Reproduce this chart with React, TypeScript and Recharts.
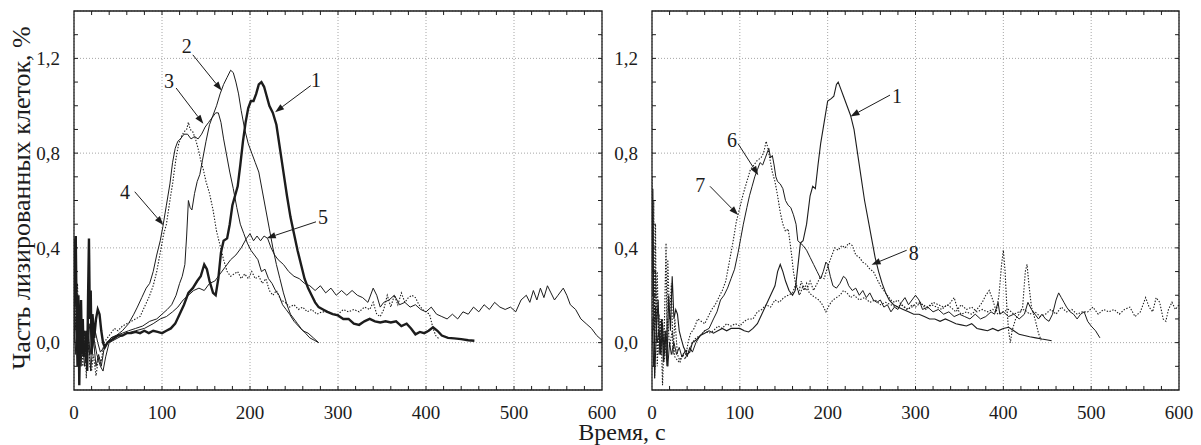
import {
  CartesianGrid,
  Line,
  LineChart,
  ReferenceArea,
  ReferenceDot,
  ReferenceLine,
  XAxis,
  YAxis,
} from 'recharts';

type Pt = [number, number];

// left panel, curves 1-5 (time s, lysed fraction %)
const left1: Pt[] = [
  [0, 0.15], [1, 0.42], [2, 0.45], [3, 0.1], [4, -0.1], [5, 0.2], [6, -0.18], [7, 0.05], [8, 0.18], [9, -0.05],
  [10, 0.1], [11, -0.06], [12, 0.0], [13, -0.04], [14, 0.05], [15, -0.12], [16, 0.2], [17, 0.44], [18, 0.1], [19, 0.22],
  [20, -0.05], [21, 0.12], [23, 0.02], [25, 0.1], [27, 0.14], [29, 0.12], [31, 0.05], [33, 0.0], [35, -0.02], [38, 0.0],
  [42, 0.01], [46, 0.02], [50, 0.03], [55, 0.03], [60, 0.04], [65, 0.04], [70, 0.045], [75, 0.04], [80, 0.05], [85, 0.04],
  [90, 0.05], [95, 0.045], [100, 0.04], [105, 0.05], [110, 0.06], [115, 0.08], [120, 0.12], [125, 0.16], [130, 0.21], [135, 0.23],
  [140, 0.26], [144, 0.28], [148, 0.33], [151, 0.31], [154, 0.26], [158, 0.21], [161, 0.2], [164, 0.27], [167, 0.38], [170, 0.43],
  [174, 0.44], [177, 0.5], [180, 0.58], [183, 0.62], [186, 0.66], [189, 0.75], [192, 0.85], [195, 0.93], [198, 0.99], [201, 1.02],
  [204, 1.02], [207, 1.05], [210, 1.09], [213, 1.1], [216, 1.08], [219, 1.04], [222, 1.0], [226, 0.97], [230, 0.92], [234, 0.82],
  [238, 0.72], [242, 0.62], [246, 0.53], [250, 0.46], [254, 0.39], [258, 0.33], [262, 0.27], [266, 0.23], [270, 0.2], [274, 0.17],
  [278, 0.15], [283, 0.14], [288, 0.13], [294, 0.12], [300, 0.115], [306, 0.1], [312, 0.1], [318, 0.08], [324, 0.075], [330, 0.09],
  [336, 0.1], [342, 0.09], [348, 0.085], [354, 0.09], [360, 0.085], [366, 0.09], [372, 0.07], [378, 0.08], [383, 0.06], [388, 0.035],
  [393, 0.045], [398, 0.04], [403, 0.05], [408, 0.065], [413, 0.05], [418, 0.03], [425, 0.02], [432, 0.018], [440, 0.015], [448, 0.01],
  [455, 0.008],
];

const left2: Pt[] = [
  [0, 0.05], [2, 0.3], [4, -0.05], [6, 0.1], [8, -0.1], [10, 0.05], [13, -0.08], [16, 0.1], [19, -0.12], [22, 0.02],
  [25, -0.1], [28, -0.05], [31, -0.1], [34, -0.03], [38, 0.0], [42, 0.02], [48, 0.03], [55, 0.04], [62, 0.05], [70, 0.06],
  [78, 0.07], [86, 0.09], [94, 0.1], [100, 0.12], [106, 0.14], [111, 0.16], [116, 0.2], [120, 0.25], [123, 0.28], [126, 0.33],
  [128, 0.45], [130, 0.6], [132, 0.57], [134, 0.56], [137, 0.63], [140, 0.68], [143, 0.71], [146, 0.77], [150, 0.85], [154, 0.92],
  [158, 0.96], [162, 1.0], [166, 1.05], [170, 1.09], [174, 1.12], [178, 1.15], [181, 1.14], [184, 1.1], [187, 1.05], [190, 0.98],
  [194, 0.9], [198, 0.84], [202, 0.8], [206, 0.76], [210, 0.72], [214, 0.64], [218, 0.56], [222, 0.48], [226, 0.4], [230, 0.33],
  [234, 0.27], [238, 0.21], [242, 0.16], [246, 0.12], [250, 0.1], [254, 0.08], [258, 0.06], [263, 0.04], [268, 0.02], [273, 0.01],
  [278, 0.0],
];

const left3: Pt[] = [
  [0, 0.1], [2, -0.05], [4, 0.2], [6, 0.0], [8, 0.1], [10, -0.05], [12, 0.05], [15, -0.05], [18, 0.08], [21, -0.03],
  [24, 0.05], [27, 0.0], [30, -0.04], [34, -0.02], [38, 0.0], [42, 0.02], [48, 0.03], [55, 0.05], [62, 0.08], [68, 0.12],
  [72, 0.15], [77, 0.19], [82, 0.23], [86, 0.25], [90, 0.3], [94, 0.37], [98, 0.43], [101, 0.49], [105, 0.58], [109, 0.67],
  [112, 0.76], [115, 0.82], [118, 0.85], [121, 0.86], [125, 0.88], [129, 0.88], [133, 0.86], [137, 0.87], [141, 0.86], [145, 0.88],
  [149, 0.91], [153, 0.93], [157, 0.95], [161, 0.97], [164, 0.97], [167, 0.93], [170, 0.86], [173, 0.8], [177, 0.72], [181, 0.65],
  [185, 0.57], [189, 0.5], [193, 0.46], [197, 0.42], [201, 0.39], [205, 0.37], [209, 0.35], [213, 0.3], [217, 0.31], [221, 0.27],
  [225, 0.25], [229, 0.22], [233, 0.2], [237, 0.16], [241, 0.14], [245, 0.12], [250, 0.09], [255, 0.07], [260, 0.05], [266, 0.04],
  [272, 0.02], [278, 0.0],
];

const left4: Pt[] = [
  [0, 0.3], [2, 0.05], [4, 0.25], [6, -0.05], [8, 0.15], [10, -0.1], [12, 0.05], [14, -0.15], [16, 0.05], [18, -0.1],
  [20, -0.12], [22, -0.05], [25, -0.14], [28, -0.06], [31, -0.08], [34, 0.0], [38, 0.02], [42, 0.04], [46, 0.06], [50, 0.05],
  [55, 0.07], [60, 0.08], [65, 0.09], [70, 0.1], [75, 0.11], [80, 0.15], [85, 0.19], [90, 0.24], [94, 0.3], [98, 0.38],
  [102, 0.46], [105, 0.5], [109, 0.6], [112, 0.67], [116, 0.78], [119, 0.84], [122, 0.87], [125, 0.89], [128, 0.9], [130, 0.93],
  [132, 0.9], [135, 0.89], [138, 0.86], [141, 0.82], [144, 0.77], [147, 0.73], [150, 0.68], [154, 0.63], [158, 0.56], [162, 0.47],
  [166, 0.41], [170, 0.35], [174, 0.3], [178, 0.28], [182, 0.29], [186, 0.3], [190, 0.27], [194, 0.29], [198, 0.27], [202, 0.3],
  [206, 0.27], [210, 0.28], [214, 0.25], [218, 0.27], [222, 0.22], [226, 0.2], [230, 0.22], [235, 0.18], [240, 0.17], [245, 0.15],
  [250, 0.16], [255, 0.14], [260, 0.15], [265, 0.13], [270, 0.14], [276, 0.12], [282, 0.13], [288, 0.13], [294, 0.12], [300, 0.12],
  [306, 0.14], [312, 0.13], [318, 0.14], [324, 0.13], [330, 0.15], [336, 0.14], [340, 0.17], [344, 0.12], [348, 0.11], [352, 0.14],
  [356, 0.2], [360, 0.15], [364, 0.2], [368, 0.16], [372, 0.21], [376, 0.17], [380, 0.19], [384, 0.2], [388, 0.19], [392, 0.16],
  [396, 0.14], [400, 0.13], [404, 0.12], [408, 0.06], [411, 0.03], [415, 0.015],
];

const left5: Pt[] = [
  [0, 0.0], [3, 0.12], [6, -0.08], [9, 0.05], [12, -0.1], [15, 0.0], [18, -0.05], [22, 0.03], [26, -0.05], [30, -0.1],
  [33, -0.12], [36, -0.06], [40, 0.0], [50, 0.02], [60, 0.04], [70, 0.05], [80, 0.06], [90, 0.08], [98, 0.1], [105, 0.11],
  [112, 0.13], [118, 0.15], [124, 0.18], [130, 0.2], [136, 0.22], [142, 0.23], [148, 0.22], [154, 0.25], [160, 0.26], [166, 0.29],
  [172, 0.32], [178, 0.35], [184, 0.37], [190, 0.4], [196, 0.44], [200, 0.46], [204, 0.43], [208, 0.45], [212, 0.43], [216, 0.45],
  [220, 0.44], [224, 0.4], [228, 0.37], [232, 0.35], [238, 0.33], [244, 0.3], [250, 0.28], [256, 0.27], [262, 0.25], [268, 0.24],
  [274, 0.22], [280, 0.24], [286, 0.21], [292, 0.23], [298, 0.2], [304, 0.22], [310, 0.2], [316, 0.22], [322, 0.2], [328, 0.19],
  [334, 0.17], [340, 0.23], [344, 0.2], [348, 0.15], [352, 0.17], [358, 0.18], [364, 0.2], [370, 0.16], [376, 0.17], [382, 0.15],
  [388, 0.16], [394, 0.14], [400, 0.13], [406, 0.15], [412, 0.12], [418, 0.11], [424, 0.1], [430, 0.12], [436, 0.1], [442, 0.13],
  [448, 0.12], [454, 0.15], [460, 0.13], [466, 0.16], [472, 0.14], [478, 0.17], [484, 0.15], [490, 0.14], [496, 0.15], [502, 0.13],
  [508, 0.18], [514, 0.2], [518, 0.17], [522, 0.22], [526, 0.18], [530, 0.23], [534, 0.19], [538, 0.24], [542, 0.21], [546, 0.18],
  [550, 0.2], [556, 0.23], [560, 0.2], [564, 0.16], [570, 0.14], [576, 0.1], [582, 0.08], [588, 0.06], [594, 0.03], [600, 0.01],
];

// right panel, curves 1, 6, 7, 8
const right1: Pt[] = [
  [0, 0.3], [1, 0.65], [2, 0.1], [3, -0.15], [5, 0.05], [7, 0.18], [9, -0.05], [11, 0.1], [13, -0.08], [15, 0.05],
  [17, -0.1], [19, 0.2], [21, 0.05], [23, 0.28], [25, 0.1], [27, 0.14], [29, 0.12], [31, 0.05], [33, 0.02], [36, -0.02],
  [40, -0.05], [43, -0.04], [46, 0.0], [50, 0.01], [55, 0.03], [60, 0.04], [65, 0.05], [70, 0.04], [75, 0.05], [80, 0.06],
  [85, 0.05], [90, 0.06], [95, 0.06], [100, 0.06], [105, 0.05], [110, 0.045], [115, 0.06], [120, 0.08], [125, 0.12], [130, 0.16],
  [135, 0.2], [140, 0.24], [143, 0.3], [146, 0.33], [149, 0.3], [152, 0.26], [156, 0.22], [160, 0.2], [163, 0.22], [166, 0.32],
  [169, 0.42], [172, 0.43], [176, 0.5], [180, 0.62], [183, 0.66], [186, 0.65], [189, 0.75], [192, 0.84], [196, 0.93], [200, 1.02],
  [204, 1.03], [207, 1.04], [210, 1.09], [212, 1.1], [215, 1.07], [218, 1.04], [222, 1.0], [226, 0.96], [230, 0.9], [234, 0.8],
  [238, 0.7], [242, 0.6], [246, 0.52], [250, 0.44], [254, 0.36], [258, 0.3], [262, 0.25], [266, 0.21], [270, 0.18], [275, 0.16],
  [280, 0.15], [286, 0.14], [292, 0.13], [298, 0.12], [304, 0.12], [310, 0.11], [316, 0.1], [322, 0.1], [328, 0.09], [334, 0.1],
  [340, 0.09], [346, 0.08], [352, 0.075], [358, 0.07], [364, 0.08], [370, 0.06], [376, 0.055], [382, 0.05], [388, 0.06], [394, 0.05],
  [400, 0.06], [406, 0.065], [412, 0.05], [418, 0.035], [424, 0.03], [430, 0.025], [437, 0.02], [444, 0.015], [452, 0.01], [455, 0.008],
];

const right6: Pt[] = [
  [0, 0.1], [2, -0.1], [4, 0.15], [6, 0.0], [8, 0.05], [10, -0.05], [12, 0.08], [14, -0.05], [16, 0.05], [18, -0.1],
  [20, 0.0], [22, -0.05], [25, 0.0], [28, -0.05], [31, -0.02], [34, -0.06], [37, -0.04], [40, -0.06], [43, -0.02], [46, -0.04],
  [50, 0.0], [55, 0.03], [60, 0.05], [65, 0.06], [70, 0.1], [74, 0.13], [78, 0.18], [82, 0.2], [86, 0.23], [90, 0.27],
  [94, 0.31], [98, 0.38], [101, 0.44], [104, 0.5], [108, 0.57], [111, 0.62], [114, 0.66], [117, 0.7], [120, 0.73], [123, 0.76],
  [126, 0.75], [129, 0.78], [131, 0.8], [133, 0.82], [135, 0.78], [137, 0.79], [139, 0.75], [141, 0.7], [143, 0.68], [146, 0.67],
  [149, 0.65], [152, 0.6], [155, 0.58], [158, 0.57], [161, 0.54], [164, 0.5], [166, 0.43], [169, 0.42], [172, 0.41], [176, 0.39],
  [180, 0.36], [184, 0.33], [188, 0.3], [192, 0.27], [195, 0.3], [198, 0.34], [200, 0.33], [203, 0.28], [206, 0.24], [210, 0.23],
  [214, 0.25], [218, 0.28], [221, 0.27], [224, 0.24], [228, 0.22], [232, 0.23], [236, 0.2], [240, 0.22], [244, 0.19], [248, 0.21],
  [252, 0.18], [256, 0.17], [260, 0.18], [264, 0.15], [268, 0.16], [272, 0.13], [276, 0.15], [280, 0.14], [284, 0.17], [288, 0.19],
  [292, 0.16], [296, 0.18], [300, 0.2], [304, 0.18], [308, 0.14], [314, 0.15], [320, 0.13], [326, 0.14], [332, 0.12], [338, 0.13],
  [344, 0.11], [350, 0.12], [356, 0.11], [362, 0.1], [368, 0.12], [374, 0.1], [380, 0.11], [386, 0.13], [390, 0.12], [394, 0.17],
  [396, 0.12], [400, 0.13], [406, 0.11], [412, 0.12], [418, 0.1], [424, 0.12], [428, 0.17], [432, 0.14], [436, 0.12], [440, 0.1],
  [444, 0.12], [448, 0.1], [452, 0.09], [456, 0.12], [460, 0.18], [463, 0.21], [466, 0.19], [469, 0.17], [472, 0.15], [476, 0.13],
  [480, 0.12], [484, 0.1], [488, 0.12], [492, 0.13], [496, 0.09], [500, 0.07], [505, 0.05], [510, 0.02],
];

const right7: Pt[] = [
  [0, 0.7], [1, 0.2], [2, 0.6], [3, -0.15], [4, 0.5], [5, 0.0], [6, 0.3], [8, -0.05], [10, 0.1], [12, -0.18],
  [14, 0.05], [16, 0.42], [17, 0.05], [18, 0.35], [20, 0.1], [22, 0.25], [24, -0.05], [26, 0.1], [29, -0.05], [32, -0.08],
  [35, -0.05], [38, -0.07], [41, 0.0], [44, 0.04], [48, 0.06], [52, 0.1], [56, 0.09], [60, 0.08], [64, 0.11], [68, 0.14],
  [72, 0.16], [76, 0.19], [80, 0.22], [84, 0.26], [88, 0.34], [92, 0.42], [96, 0.51], [100, 0.57], [104, 0.63], [108, 0.68],
  [112, 0.73], [116, 0.75], [120, 0.77], [124, 0.78], [127, 0.8], [130, 0.85], [132, 0.82], [134, 0.78], [137, 0.72], [140, 0.68],
  [143, 0.62], [146, 0.55], [149, 0.5], [152, 0.47], [155, 0.48], [158, 0.4], [161, 0.3], [164, 0.24], [167, 0.21], [170, 0.26],
  [173, 0.22], [176, 0.25], [179, 0.21], [182, 0.2], [186, 0.19], [190, 0.18], [194, 0.16], [198, 0.13], [202, 0.16], [206, 0.18],
  [210, 0.19], [214, 0.2], [218, 0.22], [222, 0.21], [226, 0.19], [230, 0.2], [236, 0.18], [242, 0.19], [248, 0.17], [254, 0.18],
  [260, 0.16], [266, 0.17], [272, 0.16], [278, 0.15], [284, 0.16], [290, 0.14], [296, 0.15], [302, 0.17], [308, 0.16], [314, 0.15],
  [320, 0.17], [326, 0.16], [332, 0.15], [338, 0.16], [344, 0.19], [348, 0.14], [352, 0.12], [358, 0.13], [364, 0.12], [370, 0.14],
  [376, 0.17], [380, 0.2], [384, 0.22], [388, 0.18], [392, 0.13], [395, 0.2], [398, 0.33], [400, 0.39], [402, 0.3], [404, 0.15],
  [406, 0.05], [408, 0.0], [410, 0.05], [414, 0.1], [418, 0.12], [422, 0.15], [425, 0.3], [427, 0.33], [429, 0.25], [432, 0.15],
  [436, 0.1], [440, 0.04], [443, 0.01],
];

const right8: Pt[] = [
  [0, 0.2], [2, 0.05], [4, 0.3], [6, -0.1], [8, 0.12], [10, -0.05], [12, 0.1], [14, -0.08], [16, 0.0], [18, 0.1],
  [20, -0.02], [23, 0.05], [26, -0.06], [30, -0.08], [34, -0.06], [38, -0.03], [42, -0.04], [46, 0.0], [50, 0.02], [55, 0.03],
  [60, 0.05], [65, 0.04], [70, 0.05], [75, 0.07], [80, 0.06], [85, 0.08], [90, 0.07], [95, 0.08], [100, 0.07], [105, 0.09],
  [110, 0.1], [115, 0.1], [120, 0.13], [125, 0.14], [130, 0.16], [135, 0.15], [140, 0.18], [145, 0.17], [150, 0.19], [155, 0.2],
  [160, 0.21], [164, 0.25], [168, 0.2], [172, 0.24], [176, 0.22], [180, 0.26], [184, 0.22], [188, 0.25], [192, 0.28], [196, 0.27],
  [200, 0.32], [204, 0.36], [208, 0.4], [212, 0.39], [216, 0.41], [220, 0.4], [224, 0.42], [228, 0.41], [232, 0.37], [236, 0.36],
  [240, 0.34], [244, 0.33], [248, 0.31], [252, 0.3], [256, 0.27], [260, 0.24], [264, 0.22], [268, 0.2], [272, 0.18], [276, 0.17],
  [280, 0.18], [284, 0.16], [288, 0.15], [292, 0.14], [296, 0.16], [300, 0.15], [306, 0.17], [312, 0.14], [318, 0.16], [324, 0.15],
  [330, 0.14], [336, 0.16], [340, 0.15], [346, 0.13], [352, 0.16], [358, 0.14], [364, 0.15], [370, 0.13], [376, 0.14], [382, 0.13],
  [388, 0.14], [394, 0.12], [400, 0.13], [406, 0.14], [412, 0.12], [418, 0.13], [424, 0.14], [430, 0.12], [436, 0.13], [442, 0.11],
  [448, 0.12], [454, 0.14], [460, 0.12], [466, 0.15], [472, 0.13], [478, 0.14], [484, 0.12], [490, 0.13], [496, 0.13], [502, 0.15],
  [508, 0.12], [514, 0.14], [520, 0.13], [526, 0.14], [532, 0.12], [538, 0.14], [544, 0.15], [550, 0.11], [556, 0.13], [562, 0.19],
  [566, 0.15], [570, 0.13], [574, 0.19], [578, 0.17], [582, 0.1], [585, 0.09], [588, 0.14], [592, 0.17], [596, 0.14], [600, 0.16],
];

const xTicks = [0, 100, 200, 300, 400, 500, 600];
const yTicks = [0, 0.4, 0.8, 1.2];
const xMinor = [
  20, 40, 60, 80, 100, 120, 140, 160, 180, 200, 220, 240, 260, 280, 300,
  320, 340, 360, 380, 400, 420, 440, 460, 480, 500, 520, 540, 560, 580,
];
const yMinor = [-0.1, 0, 0.1, 0.2, 0.3, 0.4, 0.5, 0.6, 0.7, 0.8, 0.9, 1.0, 1.1, 1.2, 1.3];
const yTitle = 'Часть лизированных клеток, %';
const xTitle = 'Время, с';

interface Note {
  text: string;
  at: Pt;
  from: Pt;
  to: Pt;
}

const leftNotes: Note[] = [
  { text: '1', at: [275, 1.107], from: [269, 1.085], to: [228.5, 0.973] },
  { text: '2', at: [128, 1.253], from: [135, 1.215], to: [167.8, 1.064] },
  { text: '3', at: [108, 1.106], from: [116, 1.075], to: [147, 0.924] },
  { text: '4', at: [58, 0.637], from: [69, 0.637], to: [101.5, 0.497] },
  { text: '5', at: [283, 0.532], from: [275, 0.51], to: [219, 0.441] },
];

const rightNotes: Note[] = [
  { text: '1', at: [279, 1.043], from: [271, 1.045], to: [226, 0.955] },
  { text: '6', at: [91, 0.854], from: [98, 0.84], to: [121, 0.707] },
  { text: '7', at: [55, 0.665], from: [66, 0.66], to: [98, 0.539] },
  { text: '8', at: [298, 0.378], from: [290, 0.39], to: [250, 0.329] },
];

interface Curve {
  key: string;
  points: Pt[];
  width: number;
  dotted?: boolean;
}

const leftCurves: Curve[] = [
  { key: 'c5', points: left5, width: 1 },
  { key: 'c4', points: left4, width: 1.1, dotted: true },
  { key: 'c3', points: left3, width: 1 },
  { key: 'c2', points: left2, width: 1 },
  { key: 'c1', points: left1, width: 2.4 },
];

const rightCurves: Curve[] = [
  { key: 'c8', points: right8, width: 1.1, dotted: true },
  { key: 'c7', points: right7, width: 1.1, dotted: true },
  { key: 'c6', points: right6, width: 1 },
  { key: 'c1', points: right1, width: 1.1 },
];

const FONT = 'Liberation Serif, DejaVu Serif, serif';
const INK = '#1c1c1c';

const toRows = (pts: Pt[]) => pts.map(([t, v]) => ({ t, v }));
const fmt = (v: number) => v.toFixed(1).replace('.', ',');

const Arrow = (props: any) => {
  const { x1, y1, x2, y2 } = props;
  const a = Math.atan2(y2 - y1, x2 - x1);
  const bx = x2 - 9 * Math.cos(a);
  const by = y2 - 9 * Math.sin(a);
  const px = -Math.sin(a) * 3.2;
  const py = Math.cos(a) * 3.2;
  return (
    <g>
      <line x1={x1} y1={y1} x2={bx} y2={by} stroke={INK} strokeWidth={1} />
      <polygon points={`${x2},${y2} ${bx + px},${by + py} ${bx - px},${by - py}`} fill={INK} />
    </g>
  );
};

const noteText = (text: string) => (props: any) => (
  <text
    x={props.cx}
    y={props.cy}
    textAnchor="middle"
    dominantBaseline="central"
    fontSize={20}
    fontFamily={FONT}
    style={{ fontFamily: FONT }}
    fill={INK}
  >
    {text}
  </text>
);

const tickStyle = { fontSize: 19, fill: INK, fontFamily: FONT, style: { fontFamily: FONT } };

interface PanelProps {
  curves: Curve[];
  notes: Note[];
  left: number;
  width: number;
  marginLeft: number;
  marginRight: number;
  yLabel?: boolean;
  xLabelX?: number;
}

const Panel = ({ curves, notes, left, width, marginLeft, marginRight, yLabel, xLabelX }: PanelProps) => (
  <div style={{ position: 'absolute', left, top: 0 }}>
    <LineChart
      width={width}
      height={445}
      margin={{ top: 11, right: marginRight, left: marginLeft, bottom: 25 }}
      style={{ fontFamily: FONT }}
    >
      <CartesianGrid stroke="#a6a6a6" strokeDasharray="1 2" />
      <XAxis
        dataKey="t"
        type="number"
        domain={[0, 600]}
        ticks={xTicks}
        allowDataOverflow
        axisLine={false}
        tickLine={false}
        tickMargin={10}
        height={30}
        tick={tickStyle}
        label={
          xLabelX !== undefined
            ? {
                content: () => (
                  <text
                    x={xLabelX}
                    y={440}
                    textAnchor="middle"
                    fontSize={24}
                    fontFamily={FONT}
                    style={{ fontFamily: FONT }}
                    fill={INK}
                  >
                    {xTitle}
                  </text>
                ),
              }
            : undefined
        }
      />
      <YAxis
        type="number"
        domain={[-0.2, 1.4]}
        ticks={yTicks}
        allowDataOverflow
        axisLine={false}
        tickLine={false}
        tickMargin={8}
        width={44}
        tickFormatter={fmt}
        tick={tickStyle}
        label={
          yLabel
            ? {
                content: () => (
                  <text
                    x={21}
                    y={198}
                    transform="rotate(-90 21 198)"
                    textAnchor="middle"
                    dominantBaseline="central"
                    fontSize={26}
                    fontFamily={FONT}
                    style={{ fontFamily: FONT }}
                    fill={INK}
                  >
                    {yTitle}
                  </text>
                ),
              }
            : undefined
        }
      />
      {xMinor.map((x) => (
        <ReferenceLine key={`b${x}`} segment={[{ x, y: -0.2 }, { x, y: -0.183 }]} stroke={INK} ifOverflow="visible" />
      ))}
      {xMinor.map((x) => (
        <ReferenceLine key={`t${x}`} segment={[{ x, y: 1.4 }, { x, y: 1.383 }]} stroke={INK} ifOverflow="visible" />
      ))}
      {yMinor.map((y) => (
        <ReferenceLine key={`l${y}`} segment={[{ x: 0, y }, { x: 4.5, y }]} stroke={INK} ifOverflow="visible" />
      ))}
      {yMinor.map((y) => (
        <ReferenceLine key={`r${y}`} segment={[{ x: 600, y }, { x: 595.5, y }]} stroke={INK} ifOverflow="visible" />
      ))}
      {curves.map((c) => (
        <Line
          key={c.key}
          data={toRows(c.points)}
          dataKey="v"
          type="linear"
          dot={false}
          activeDot={false}
          stroke={INK}
          strokeWidth={c.width}
          strokeDasharray={c.dotted ? '1.4 1.6' : undefined}
          isAnimationActive={false}
        />
      ))}
      <ReferenceArea x1={0} x2={600} y1={-0.2} y2={1.4} fill="none" stroke={INK} strokeWidth={1.3} ifOverflow="visible" />
      {notes.map((n) => (
        <ReferenceLine
          key={`a${n.text}`}
          segment={[{ x: n.from[0], y: n.from[1] }, { x: n.to[0], y: n.to[1] }]}
          shape={Arrow}
          ifOverflow="visible"
        />
      ))}
      {notes.map((n) => (
        <ReferenceDot key={`n${n.text}`} x={n.at[0]} y={n.at[1]} r={1} shape={noteText(n.text)} ifOverflow="visible" />
      ))}
    </LineChart>
  </div>
);

export default function App() {
  return (
    <div style={{ position: 'absolute', left: 0, top: 0, width: 1201, height: 445, background: '#fff', fontFamily: FONT }}>
      <Panel curves={leftCurves} notes={leftNotes} left={0} width={620} marginLeft={30} marginRight={18} yLabel />
      <Panel curves={rightCurves} notes={rightNotes} left={560} width={641} marginLeft={48} marginRight={22} xLabelX={62} />
    </div>
  );
}
